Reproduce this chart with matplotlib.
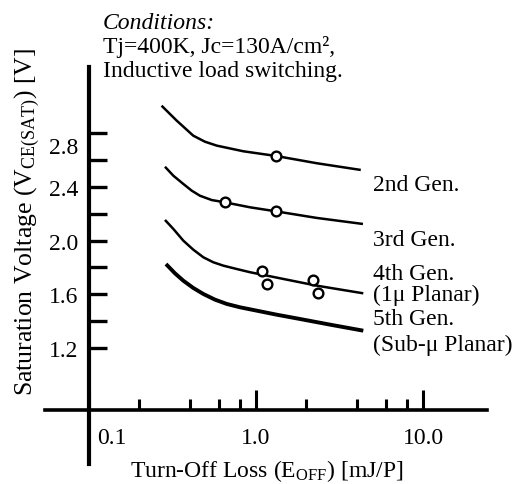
"""
IGBT世代ごとの V_CE(sat) - E_off トレードオフ曲線
"""

import matplotlib
matplotlib.use('Agg')
import matplotlib.pyplot as plt
from matplotlib.ticker import NullFormatter
from matplotlib.transforms import ScaledTranslation

plt.rcParams['font.family'] = 'Liberation Serif'
plt.rcParams['font.size'] = 17
plt.rcParams['mathtext.fontset'] = 'custom'
plt.rcParams['mathtext.rm'] = 'Liberation Serif'
plt.rcParams['mathtext.it'] = 'Liberation Serif:italic'

# --- データ ---
# 第2世代
gen2_eoff = [0.272, 0.335, 0.421, 0.495, 0.582, 0.839, 1.318, 2.31, 4.24]
gen2_vce = [3.003, 2.892, 2.780, 2.735, 2.706, 2.664, 2.629, 2.575, 2.525]
gen2_pt_eoff = [1.318]
gen2_pt_vce = [2.629]

# 第3世代
gen3_eoff = [0.285, 0.320, 0.367, 0.412, 0.462, 0.543, 0.652, 0.921, 1.318, 2.31, 4.37]
gen3_vce = [2.549, 2.482, 2.421, 2.371, 2.333, 2.301, 2.284, 2.247, 2.217, 2.168, 2.123]
gen3_pt_eoff = [0.652, 1.318]
gen3_pt_vce = [2.284, 2.217]

# 第4世代 (1μ プレーナ)
gen4_eoff = [0.285, 0.320, 0.367, 0.421, 0.484, 0.555, 0.637, 0.766, 0.921, 1.457, 2.31, 4.39]
gen4_vce = [2.153, 2.086, 1.999, 1.932, 1.875, 1.838, 1.813, 1.788, 1.764, 1.714, 1.664, 1.607]
gen4_pt_eoff = [1.082, 1.159, 2.186, 2.36]
gen4_pt_vce = [1.775, 1.676, 1.706, 1.607]

# 第5世代 (サブμ プレーナ)
gen5_eoff = [0.289, 0.327, 0.367, 0.421, 0.484, 0.568, 0.668, 0.802, 1.01, 1.33, 1.834, 2.774, 4.39]
gen5_vce = [1.825, 1.756, 1.701, 1.647, 1.602, 1.560, 1.528, 1.503, 1.478, 1.448, 1.416, 1.374, 1.329]

curve_labels = [['2nd Gen.'], ['3rd Gen.'], ['4th Gen.', '(1\u03bc Planar)'],
                ['5th Gen.', '(Sub-\u03bc Planar)']]
label_y = [[2.413], [2.004], [1.758, 1.602], [1.416, 1.230]]

x_major = [0.1, 1.0, 10.0]
x_major_labels = ['0.1', '1.0', '10.0']
x_minor = [0.2, 0.4, 0.6, 0.8, 2, 4, 6, 8]
y_major = [1.2, 1.6, 2.0, 2.4, 2.8]
y_major_labels = ['1.2', '1.6', '2.0', '2.4', '2.8']
y_minor = [1.4, 1.8, 2.2, 2.6]

conditions = ['Conditions:', 'Tj=400K, Jc=130A/cm\u00b2,', 'Inductive load switching.']


fig = plt.figure(figsize=(5.13, 4.85), dpi=100)
ax = fig.add_axes([45 / 513, 20 / 485, 442 / 513, 397 / 485])
ax.set_xscale('log')
ax.set_xlim(10 ** (-1 - 44 / 167), 10 ** (-1 + 398 / 167))
ax.set_ylim(0.337, 3.291)

# 曲線
thin = dict(color='black', lw=1.8, solid_capstyle='butt')
ax.plot(gen2_eoff, gen2_vce, **thin)
ax.plot(gen3_eoff, gen3_vce, **thin)
ax.plot(gen4_eoff, gen4_vce, **thin)
ax.plot(gen5_eoff, gen5_vce, color='black', lw=2.8, solid_capstyle='butt')

# 実測点
mk = dict(ls='none', marker='o', ms=7, mfc='white', mec='black', mew=1.7, zorder=3)
ax.plot(gen2_pt_eoff, gen2_pt_vce, **mk)
ax.plot(gen3_pt_eoff, gen3_pt_vce, **mk)
ax.plot(gen4_pt_eoff, gen4_pt_vce, **mk)

for lines, ys in zip(curve_labels, label_y):
    for txt, y in zip(lines, ys):
        ax.text(5.0, y, txt, ha='left', va='center')

# 軸
for side in ['top', 'right']:
    ax.spines[side].set_visible(False)
ax.spines['left'].set_position(('data', 0.1))
ax.spines['bottom'].set_position(('data', 0.739))
ax.spines['left'].set_linewidth(3)
ax.spines['bottom'].set_linewidth(2.6)

ax.set_xticks(x_major, x_major_labels)
ax.set_xticks(x_minor, minor=True)
ax.xaxis.set_minor_formatter(NullFormatter())
ax.set_yticks(y_major, y_major_labels)
ax.set_yticks(y_minor, minor=True)

ax.tick_params(axis='x', which='major', direction='in', length=14.4, width=2.2, pad=12)
ax.tick_params(axis='x', which='minor', direction='in', length=8, width=2.2)
ax.tick_params(axis='y', which='both', direction='in', length=13, width=2.4, pad=8)

# ラベル位置の微調整
lbl = ax.xaxis.get_major_ticks()[0].label1
lbl.set_ha('left')
lbl.set_transform(lbl.get_transform() + ScaledTranslation(0.08, 0, fig.dpi_scale_trans))
lbl = ax.yaxis.get_major_ticks()[4].label1
lbl.set_transform(lbl.get_transform() + ScaledTranslation(0, -0.12, fig.dpi_scale_trans))

ax.set_xlabel(r'Turn-Off Loss (E$_{\mathrm{OFF}}$) [mJ/P]')
ax.xaxis.set_label_coords(0.502, -0.030)
ax.xaxis.label.set_va('baseline')
ax.set_ylabel(r'Saturation Voltage (V$_{\mathrm{CE(SAT)}}$) [V]', fontsize=18.5)
ax.yaxis.set_label_coords(-0.006, 0.612)

baselines = [29, 53, 77]
for i, (txt, b) in enumerate(zip(conditions, baselines)):
    fig.text(103 / 513, (485 - b) / 485, txt, va='baseline', ha='left',
             style='italic' if i == 0 else 'normal')

fig.savefig('out.png', dpi=100)
